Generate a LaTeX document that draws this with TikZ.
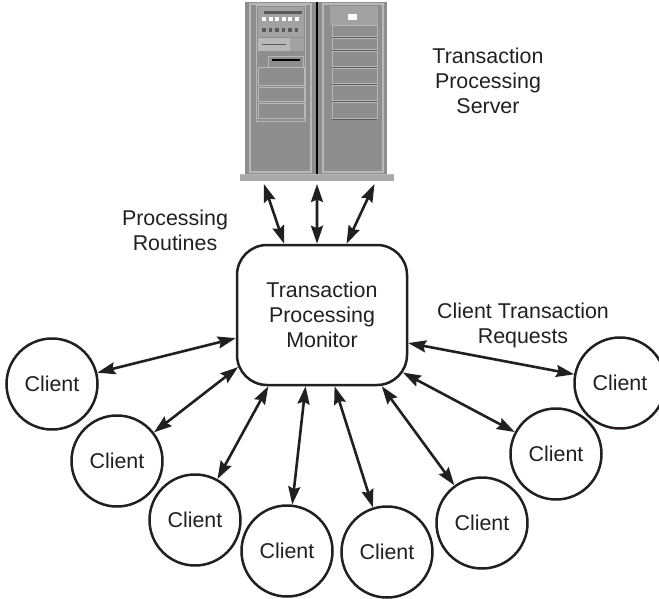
\documentclass[tikz,border=0pt]{standalone}
\usepackage{fontspec}
\setmainfont{Liberation Sans}
\usetikzlibrary{arrows.meta,positioning}
\definecolor{ink}{HTML}{231F20}
\definecolor{rackGray}{HTML}{8E8E8E}
\definecolor{rackPanel}{HTML}{A2A2A2}
\definecolor{rackLight}{HTML}{B8B8B8}
\definecolor{rackDark}{HTML}{5A5A5A}
\definecolor{baseGray}{HTML}{A9A9A9}

\begin{document}
\begin{tikzpicture}[x=1pt,y=-1pt,
    lbl/.style={align=center,font=\fontsize{21.4}{25}\selectfont,text=ink},
    client/.style={circle,draw=ink,line width=2.5pt,minimum size=91pt,inner sep=0pt,lbl},
    arr/.style={{Stealth[length=18pt,width=12pt,inset=2.5pt]}-{Stealth[length=18pt,width=12pt,inset=2.5pt]},line width=2.6pt,draw=ink}]
    \useasboundingbox (0,0) rectangle (659,599);

    % server racks
    \node[minimum width=154pt,minimum height=184pt,inner sep=0pt,outer sep=0pt] (srv) at (317,92) {};
    \fill[rackGray] (245,2) rectangle (316,174);
    \draw[rackLight,line width=1.2pt] (250,4) rectangle (311,172);
    \draw[rackLight,line width=0.8pt] (256,5) rectangle (305,121);
    \fill[rackPanel] (258,7) rectangle (304,37);
    \fill[rackDark] (264,11) rectangle (302,14);
    \foreach \i in {0,...,5} \fill[white] (262+6.5*\i,17) rectangle +(4,4);
    \foreach \i in {0,...,5} \fill[rackDark] (262+6.5*\i,28) rectangle +(3.5,4);
    \fill[rackLight] (258,38) rectangle (290,51);
    \fill[rackPanel] (290,38) rectangle (304,51);
    \draw[rackDark,line width=0.6pt] (262,44) -- (286,44);
    \draw[rackLight,line width=0.8pt] (268,56) rectangle (303,67);
    \draw[black,line width=1.2pt] (272,60) -- (300,60);
    \foreach \t/\b in {68/86,88/102,104/119}
      \draw[rackLight,line width=1pt,fill=rackGray] (258,\t) rectangle (304,\b);
    \fill[rackGray] (318,2) rectangle (387,174);
    \draw[rackLight,line width=1.2pt] (323,4) rectangle (383,172);
    \fill[rackPanel] (330,6) rectangle (378,25);
    \fill[white] (348,14) rectangle (357,20);
    \foreach \t/\b in {26/37,39/50,52/67,69/84,86/101,103/119} {
      \draw[rackLight,line width=1pt,fill=rackGray] (332,\t) rectangle (377,\b);
      \draw[rackDark,line width=0.6pt] (332,\b) -- (377,\b);
    }
    \draw[black,line width=1.3pt] (317,2) -- (317,174);
    \fill[baseGray] (240,174) rectangle (394,181);
    \draw[rackLight,line width=0.8pt] (240,174.5) -- (394,174.5);

    \node[draw=ink,line width=2.5pt,rounded corners=30pt,minimum width=170pt,minimum height=140pt,lbl] (mon) at (322,315) {Transaction\\Processing\\Monitor};

    \node[lbl] (srvlbl) at (488,81) {Transaction\\Processing\\Server};
    \node[lbl] (routlbl) at (175,230) {Processing\\Routines};
    \node[lbl] (reqlbl) at (523,325) {Client Transaction\\Requests};

    \node[client] (c1) at (52,384) {Client};
    \node[client] (c2) at (117,461) {Client};
    \node[client] (c3) at (195,520) {Client};
    \node[client] (c4) at (287,551) {Client};
    \node[client] (c5) at (387,552) {Client};
    \node[client] (c6) at (482,523) {Client};
    \node[client] (c7) at (556,454) {Client};
    \node[client] (c8) at (620,383) {Client};

    \draw[arr] (srv.-120) -- (mon.118);
    \draw[arr] (srv.south) -- (mon.94);
    \draw[arr] (srv.-58) -- (mon.71);
    \draw[arr] (mon.195) -- (c1);
    \draw[arr,shorten <=-3pt] (mon.212) -- (c2);
    \draw[arr] (mon.233) -- (c3);
    \draw[arr] (mon.257) -- (c4);
    \draw[arr] (mon.280) -- (c5);
    \draw[arr] (mon.310) -- (c6);
    \draw[arr,shorten <=-6pt] (mon.325) -- (c7);
    \draw[arr] (mon.342) -- (c8);
  \end{tikzpicture}
\end{document}
